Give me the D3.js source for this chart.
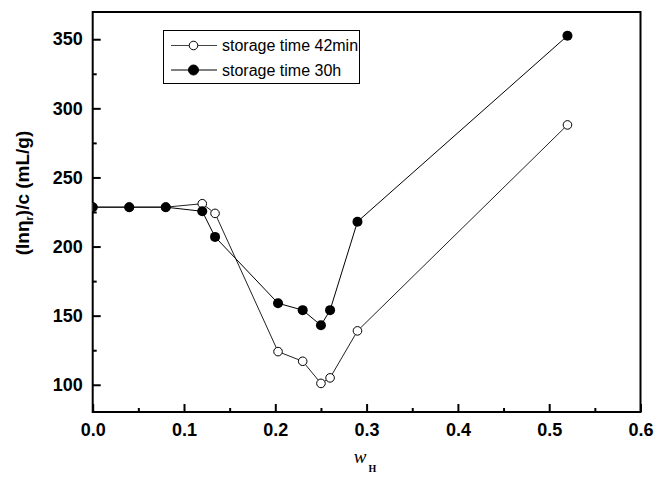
<!DOCTYPE html>
<html>
<head>
<meta charset="utf-8">
<script src="https://cdn.jsdelivr.net/npm/d3@7"></script>
<style>
body{margin:0;background:#fff;}
svg{display:block;}
</style>
</head>
<body>
<svg id="chart" width="655" height="477"></svg>
<script>
const xValues = [0, 0.04, 0.08, 0.12, 0.134, 0.203, 0.23, 0.25, 0.26, 0.29, 0.52];
const series42min = [228.5, 228.5, 228.5, 231, 224, 124, 117, 101, 105, 139, 288];
const series30h = [228.5, 228.5, 228.5, 225.5, 207, 159, 154, 143, 154, 218, 352.5];
const seriesNames = ["storage time 42min", "storage time 30h"];
const xTicks = [0, 0.1, 0.2, 0.3, 0.4, 0.5, 0.6];
const yTicks = [100, 150, 200, 250, 300, 350];

const svg = d3.select("#chart");
const m = {l: 92.7, r: 640.5, t: 12, b: 412};
const x = d3.scaleLinear().domain([0, 0.6]).range([m.l, m.r]);
const y = d3.scaleLinear().domain([80.3, 369.7]).range([m.b, m.t]);

svg.append("defs").append("clipPath").attr("id", "clip")
  .append("rect").attr("x", m.l).attr("y", m.t).attr("width", m.r - m.l).attr("height", m.b - m.t);

// axes with inward ticks
const xMinor = d3.range(0.05, 0.6, 0.1);
const yMinor = d3.range(125, 370, 50);
const xAxis = d3.axisBottom(x).tickValues(xTicks).tickFormat(d3.format(".1f")).tickSize(-8).tickPadding(11);
const yAxis = d3.axisLeft(y).tickValues(yTicks).tickFormat(d3.format("d")).tickSize(-8).tickPadding(10);

svg.append("g").attr("transform", `translate(0,${m.b})`).call(xAxis);
svg.append("g").attr("transform", `translate(${m.l},0)`).call(yAxis);
svg.append("g").attr("transform", `translate(0,${m.b})`)
  .call(d3.axisBottom(x).tickValues(xMinor).tickSize(-4).tickFormat(""));
svg.append("g").attr("transform", `translate(${m.l},0)`)
  .call(d3.axisLeft(y).tickValues(yMinor).tickSize(-4).tickFormat(""));
svg.selectAll(".domain").remove();
svg.selectAll(".tick line").attr("stroke", "#000").attr("stroke-width", 2);
svg.selectAll(".tick text").attr("fill", "#000")
  .style("font-family", "'Liberation Sans', Arial, sans-serif")
  .style("font-weight", "bold").style("font-size", "18px");

// frame
svg.append("rect").attr("x", m.l).attr("y", m.t).attr("width", m.r - m.l).attr("height", m.b - m.t)
  .attr("fill", "none").attr("stroke", "#000").attr("stroke-width", 2);

const line = d3.line().x(d => x(d[0])).y(d => y(d[1]));
const d42 = xValues.map((v, i) => [v, series42min[i]]);
const d30 = xValues.map((v, i) => [v, series30h[i]]);

const plot = svg.append("g").attr("clip-path", "url(#clip)");
plot.append("path").datum(d42).attr("d", line).attr("fill", "none").attr("stroke", "#222").attr("stroke-width", 1);
plot.append("path").datum(d30).attr("d", line).attr("fill", "none").attr("stroke", "#000").attr("stroke-width", 1);
plot.selectAll("circle.o").data(d42).enter().append("circle").attr("class", "o")
  .attr("cx", d => x(d[0])).attr("cy", d => y(d[1])).attr("r", 4.3)
  .attr("fill", "#fff").attr("stroke", "#000").attr("stroke-width", 1);
plot.selectAll("circle.f").data(d30).enter().append("circle").attr("class", "f")
  .attr("cx", d => x(d[0])).attr("cy", d => y(d[1])).attr("r", 5)
  .attr("fill", "#000");

// legend
const lg = svg.append("g");
lg.append("rect").attr("x", 163.5).attr("y", 30.5).attr("width", 196).attr("height", 53)
  .attr("fill", "#fff").attr("stroke", "#000").attr("stroke-width", 1);
[[45.5, false], [70, true]].forEach(([yy, filled], i) => {
  lg.append("line").attr("x1", 171).attr("x2", 217).attr("y1", yy).attr("y2", yy)
    .attr("stroke", filled ? "#000" : "#444").attr("stroke-width", 1);
  lg.append("circle").attr("cx", 193.5).attr("cy", yy).attr("r", filled ? 5 : 4.3)
    .attr("fill", filled ? "#000" : "#fff").attr("stroke", "#000").attr("stroke-width", 1);
  lg.append("text").attr("x", 222).attr("y", yy + 5.5).text(seriesNames[i])
    .style("font-family", "'Liberation Sans', Arial, sans-serif").style("font-size", "16px");
});

// y title
const yt = svg.append("text").attr("transform", `translate(29,193) rotate(-90)`)
  .attr("text-anchor", "middle")
  .style("font-family", "'Liberation Sans', Arial, sans-serif").style("font-weight", "bold").style("font-size", "19px");
yt.append("tspan").text("(ln\u03b7");
yt.append("tspan").attr("dy", 4).style("font-size", "11px").text("r");
yt.append("tspan").attr("dy", -4).text(")/c (mL/g)");

// x title
const xt = svg.append("text").attr("x", 365).attr("y", 463).attr("text-anchor", "middle")
  .style("font-family", "'Liberation Serif', 'Times New Roman', serif");
xt.append("tspan").style("font-style", "italic").style("font-size", "19px").text("w");
xt.append("tspan").attr("dy", 9).attr("dx", 2).style("font-size", "10px").style("font-weight", "bold").text("H");
</script>
</body>
</html>
